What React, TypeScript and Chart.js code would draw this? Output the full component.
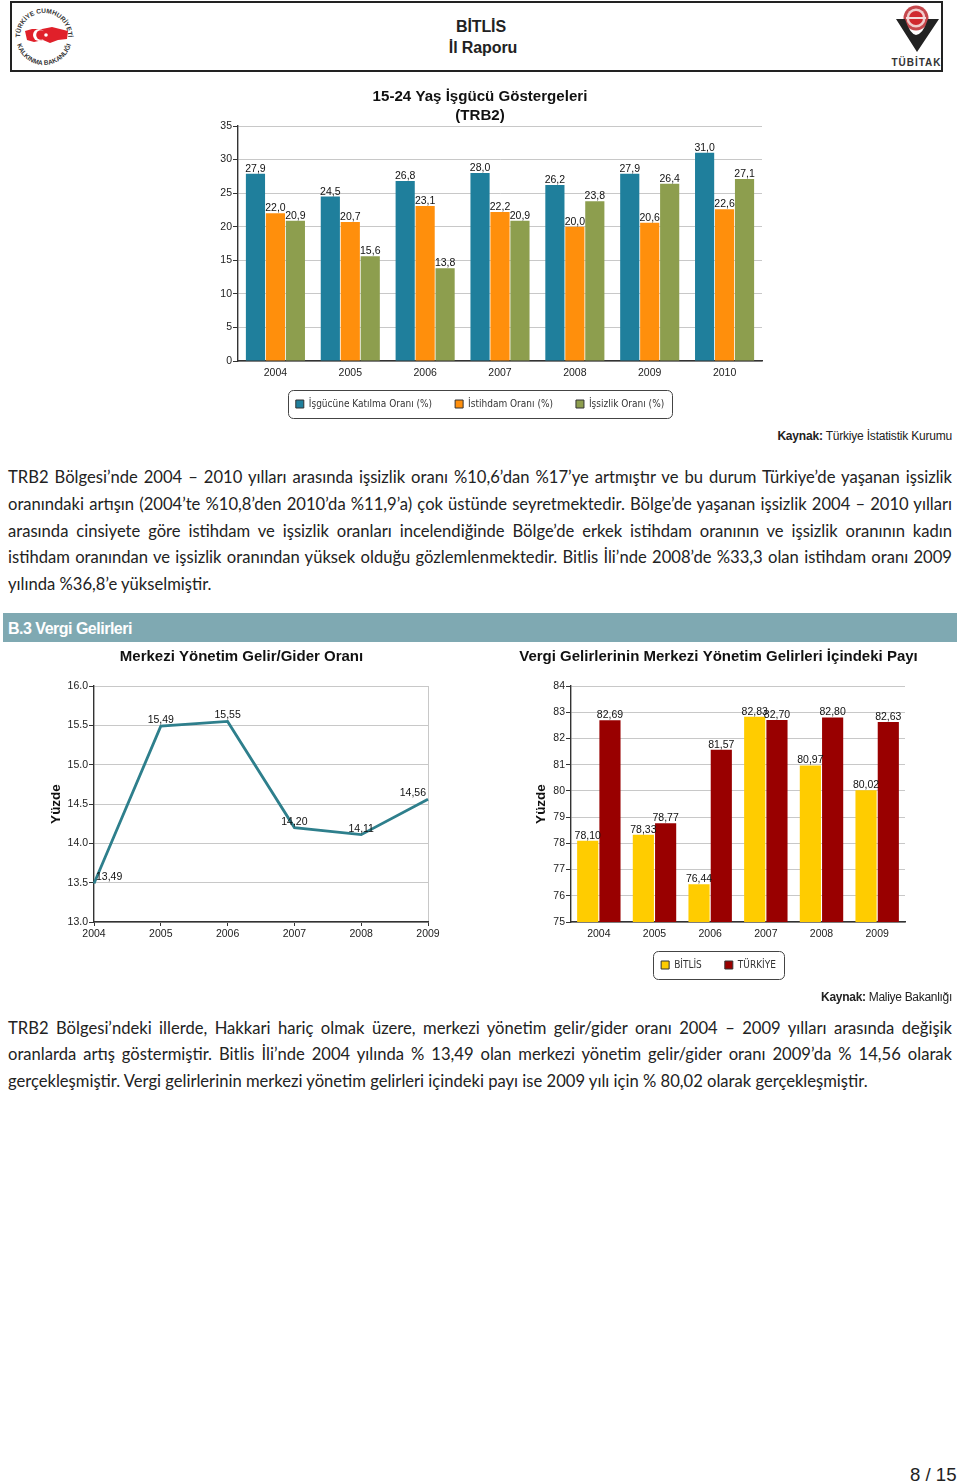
import React, { useEffect, useRef } from "react";
import { Chart, registerables } from "chart.js";

Chart.register(...registerables);

const years1 = ["2004", "2005", "2006", "2007", "2008", "2009", "2010"];
const isgucu = [27.9, 24.5, 26.8, 28.0, 26.2, 27.9, 31.0];
const istihdam = [22.0, 20.7, 23.1, 22.2, 20.0, 20.6, 22.6];
const issizlik = [20.9, 15.6, 13.8, 20.9, 23.8, 26.4, 27.1];

const years2 = ["2004", "2005", "2006", "2007", "2008", "2009"];
const gelirGider = [13.49, 15.49, 15.55, 14.2, 14.11, 14.56];
const bitlisPay = [78.1, 78.33, 76.44, 82.83, 80.97, 80.02];
const turkiyePay = [82.69, 78.77, 81.57, 82.7, 82.8, 82.63];

const para1 = [
  "TRB2 Bölgesi’nde 2004 – 2010 yılları arasında işsizlik oranı %10,6’dan %17’ye artmıştır ve bu durum Türkiye’de yaşanan işsizlik",
  "oranındaki artışın (2004’te %10,8’den 2010’da %11,9’a) çok üstünde seyretmektedir. Bölge’de yaşanan işsizlik 2004 – 2010 yılları",
  "arasında cinsiyete göre istihdam ve işsizlik oranları incelendiğinde Bölge’de erkek istihdam oranının ve işsizlik oranının kadın",
  "istihdam oranından ve işsizlik oranından yüksek olduğu gözlemlenmektedir. Bitlis İli’nde 2008’de %33,3 olan istihdam oranı 2009",
  "yılında %36,8’e yükselmiştir.",
];
const para2 = [
  "TRB2 Bölgesi’ndeki illerde, Hakkari hariç olmak üzere, merkezi yönetim gelir/gider oranı 2004 – 2009 yılları arasında değişik",
  "oranlarda artış göstermiştir. Bitlis İli’nde 2004 yılında % 13,49 olan merkezi yönetim gelir/gider oranı 2009’da % 14,56 olarak",
  "gerçekleşmiştir. Vergi gelirlerinin merkezi yönetim gelirleri içindeki payı ise 2009 yılı için % 80,02 olarak gerçekleşmiştir.",
];
const para1Tops = [466, 493, 520, 546, 573];
const para2Tops = [1017, 1043, 1070];

const SANS = '"Liberation Sans", Arial, sans-serif';
const tickFont = { family: SANS, size: 10.5 };
const labelColor = "#222";

const valueLabels = {
  id: "valueLabels",
  afterDatasetsDraw(chart: any, _a: any, opts: any) {
    const { ctx, chartArea } = chart;
    ctx.save();
    ctx.font = `10.5px ${SANS}`;
    ctx.fillStyle = "#111";
    ctx.textAlign = "left";
    ctx.textBaseline = "alphabetic";
    chart.data.datasets.forEach((ds: any, i: number) => {
      chart.getDatasetMeta(i).data.forEach((el: any, j: number) => {
        const text = ds.data[j].toFixed(opts.decimals).replace(".", ",");
        const w = ctx.measureText(text).width;
        let x = el.x - w / 2;
        x = Math.max(chartArea.left + 2, Math.min(chartArea.right - 2 - w, x));
        ctx.fillText(text, x, el.y - opts.gap);
      });
    });
    ctx.restore();
  },
};

const legendFrame = {
  id: "legendFrame",
  beforeDraw(chart: any) {
    const lg = chart.legend;
    if (!lg || !lg.options.display || !lg.legendHitBoxes?.length) return;
    const boxes = lg.legendHitBoxes;
    const first = boxes[0];
    const last = boxes[boxes.length - 1];
    const cy = first.top + first.height / 2;
    const { ctx } = chart;
    const x0 = first.left - 8;
    const x1 = last.left + last.width + 8;
    ctx.save();
    ctx.beginPath();
    ctx.roundRect(Math.round(x0) + 0.5, Math.round(cy - 14) + 0.5, Math.round(x1 - x0), 28, 5);
    ctx.strokeStyle = "#444";
    ctx.lineWidth = 1;
    ctx.stroke();
    ctx.restore();
  },
};

// The title box is limited to the padded width; let long titles use the full canvas
// so that they are not squeezed, while staying centred at the same place.
const titleBleed = {
  id: "titleBleed",
  afterLayout(chart: any) {
    const t = chart.titleBlock;
    if (!t) return;
    const extra = Math.min(t.left, chart.width - t.right);
    t.left -= extra;
    t.right += extra;
  },
};

function legendOptions() {
  return {
    display: true,
    position: "bottom" as const,
    labels: {
      boxWidth: 8,
      boxHeight: 8,
      padding: 23,
      color: "#333",
      font: { family: '"DejaVu Sans Condensed", "DejaVu Sans", sans-serif', size: 10 },
      generateLabels(chart: any) {
        return chart.data.datasets.map((ds: any, i: number) => ({
          text: ds.label,
          fillStyle: ds.backgroundColor,
          strokeStyle: "#333",
          lineWidth: 1,
          datasetIndex: i,
          fontColor: "#333",
        }));
      },
    },
  };
}

function titleOptions(text: string | string[], size: number, lineHeight: number, top: number, bottom: number) {
  return {
    display: true,
    text,
    color: "#111",
    font: { family: SANS, size, weight: "bold" as const, lineHeight: `${lineHeight}px` },
    padding: { top, bottom },
  };
}

function fixedWidth(w: number) {
  return (scale: any) => {
    scale.width = w;
  };
}
function fixedHeight(h: number) {
  return (scale: any) => {
    scale.height = h;
  };
}

function yAxis(min: number, max: number, step: number, width: number, decimals: number, title?: string, titlePad = 0) {
  return {
    min,
    max,
    afterFit: fixedWidth(width),
    border: { color: "#333", width: 1.4 },
    grid: { color: "#c8c8c8", lineWidth: 1, tickColor: "#333", tickLength: 5 },
    ticks: {
      stepSize: step,
      color: labelColor,
      font: tickFont,
      padding: 1,
      callback: (v: any) => Number(v).toFixed(decimals),
    },
    title: title
      ? {
          display: true,
          text: title,
          color: "#111",
          font: { family: SANS, size: 13.5, weight: "bold" as const, lineHeight: "15px" },
          padding: { top: titlePad, bottom: 0 },
        }
      : { display: false },
  };
}

function xAxis(offset: boolean, height: number) {
  const n = (ctx: any) => ctx.chart.data.labels.length;
  return {
    offset,
    afterFit: fixedHeight(height),
    border: { color: "#333", width: 1.4 },
    grid: {
      drawTicks: !offset,
      tickLength: 4,
      tickColor: "#333",
      color: (c: any) => (c.index === (offset ? n(c) : n(c) - 1) ? "#c8c8c8" : "rgba(0,0,0,0)"),
    },
    ticks: {
      color: labelColor,
      font: tickFont,
      maxRotation: 0,
      autoSkip: false,
      padding: offset ? 6 : 2,
    },
  };
}

function useChart(build: () => any) {
  const ref = useRef<HTMLCanvasElement>(null);
  useEffect(() => {
    const chart = new Chart(ref.current as HTMLCanvasElement, build());
    return () => chart.destroy();
  }, []);
  return ref;
}

function commonOptions(padding: any) {
  return {
    responsive: false,
    animation: false as const,
    layout: { padding },
  };
}

function EmploymentChart() {
  const ref = useChart(() => ({
    type: "bar",
    data: {
      labels: years1,
      datasets: [
        { label: "İşgücüne Katılma Oranı (%)", data: isgucu, backgroundColor: "#1F7F9C" },
        { label: "İstihdam Oranı (%)", data: istihdam, backgroundColor: "#FF8F0C" },
        { label: "İşsizlik Oranı (%)", data: issizlik, backgroundColor: "#8D9E4E" },
      ],
    },
    options: {
      ...commonOptions({ left: 18, right: 18, top: 0, bottom: 0 }),
      datasets: { bar: { categoryPercentage: 0.8, barPercentage: 0.96 } },
      scales: { x: xAxis(true, 15), y: yAxis(0, 35, 5, 40, 0) },
      plugins: {
        title: titleOptions(["15-24 Yaş İşgücü Göstergeleri", "(TRB2)"], 15.1, 19, 7, 1),
        legend: legendOptions(),
        tooltip: { enabled: false },
        valueLabels: { decimals: 1, gap: 2 },
      },
    },
    plugins: [valueLabels, legendFrame, titleBleed],
  }));
  return (
    <canvas
      ref={ref}
      width={600}
      height={339}
      style={{ position: "absolute", left: 180, top: 80, width: 600, height: 339 }}
    />
  );
}

function RatioChart() {
  const ref = useChart(() => ({
    type: "line",
    data: {
      labels: years2,
      datasets: [
        {
          label: "Merkezi Yönetim Gelir/Gider Oranı",
          data: gelirGider,
          borderColor: "#2E7F8C",
          borderWidth: 2.8,
          pointRadius: 0,
          tension: 0,
        },
      ],
    },
    options: {
      ...commonOptions({ left: 55, right: 55, top: 0, bottom: 8 }),
      scales: { x: xAxis(false, 20), y: yAxis(13, 16, 0.5, 39, 1, "Yüzde", -6) },
      plugins: {
        title: titleOptions("Merkezi Yönetim Gelir/Gider Oranı", 15, 19, 7, 20),
        legend: { display: false },
        tooltip: { enabled: false },
        valueLabels: { decimals: 2, gap: 3 },
      },
    },
    plugins: [valueLabels, titleBleed],
  }));
  return (
    <canvas
      ref={ref}
      width={483}
      height={310}
      style={{ position: "absolute", left: 0, top: 640, width: 483, height: 310 }}
    />
  );
}

function TaxShareChart() {
  const ref = useChart(() => ({
    type: "bar",
    data: {
      labels: years2,
      datasets: [
        { label: "BİTLİS", data: bitlisPay, backgroundColor: "#FFCC00" },
        { label: "TÜRKİYE", data: turkiyePay, backgroundColor: "#990000" },
      ],
    },
    options: {
      ...commonOptions({ left: 52, right: 52, top: 0, bottom: 0 }),
      datasets: { bar: { categoryPercentage: 0.8, barPercentage: 0.95 } },
      scales: { x: xAxis(true, 15), y: yAxis(75, 84, 1, 39, 0, "Yüzde", 1.5) },
      plugins: {
        title: titleOptions("Vergi Gelirlerinin Merkezi Yönetim Gelirleri İçindeki Payı", 15, 19, 7, 20),
        legend: legendOptions(),
        tooltip: { enabled: false },
        valueLabels: { decimals: 2, gap: 2 },
      },
    },
    plugins: [valueLabels, legendFrame, titleBleed],
  }));
  return (
    <canvas
      ref={ref}
      width={477}
      height={340}
      style={{ position: "absolute", left: 480, top: 640, width: 477, height: 340 }}
    />
  );
}

function Line({ text, top, justify }: { text: string; top: number; justify: boolean }) {
  return (
    <div
      style={{
        position: "absolute",
        left: 8,
        top,
        width: 944,
        height: 22,
        lineHeight: "22px",
        fontFamily: 'Lato, "Open Sans", sans-serif',
        fontSize: 16.6,
        color: "#222",
        whiteSpace: justify ? "normal" : "nowrap",
        textAlign: justify ? "justify" : "left",
        textAlignLast: justify ? "justify" : "left",
      }}
    >
      {text}
    </div>
  );
}

function abs(left: number, top: number, extra: React.CSSProperties = {}): React.CSSProperties {
  return { position: "absolute", left, top, fontFamily: SANS, whiteSpace: "nowrap", ...extra };
}

function Source({ top, bold, rest, spacing }: { top: number; bold: string; rest: string; spacing: number }) {
  return (
    <div
      style={{
        position: "absolute",
        right: 8,
        top,
        fontFamily: SANS,
        fontSize: 12,
        letterSpacing: `${spacing}px`,
        color: "#222",
        whiteSpace: "nowrap",
      }}
    >
      <b>{bold}</b> {rest}
    </div>
  );
}

function Header() {
  return (
    <>
      <div
        style={{
          position: "absolute",
          left: 10,
          top: 1,
          width: 933,
          height: 71,
          border: "2px solid #222",
          boxSizing: "border-box",
        }}
      />
      <div style={abs(381, 18, { width: 200, textAlign: "center", fontSize: 16, fontWeight: "bold", color: "#222", letterSpacing: "-0.1px" })}>
        BİTLİS
      </div>
      <div style={abs(383, 39, { width: 200, textAlign: "center", fontSize: 16, fontWeight: "bold", color: "#222", letterSpacing: "-0.1px" })}>
        İl Raporu
      </div>
      <svg style={{ position: "absolute", left: 12, top: 4 }} width={64} height={64} viewBox="0 0 64 64">
        <defs>
          <path id="arcTop" d="M 8 33 A 24 24 0 0 1 56 33" />
          <path id="arcBottom" d="M 4 33 A 28 28 0 0 0 60 33" />
        </defs>
        <text fontSize="6.5" fontWeight="bold" fontFamily={SANS} fill="#333">
          <textPath href="#arcTop" startOffset="50%" textAnchor="middle">TÜRKİYE CUMHURİYETİ</textPath>
        </text>
        <text fontSize="6.5" fontWeight="bold" fontFamily={SANS} fill="#333">
          <textPath href="#arcBottom" startOffset="50%" textAnchor="middle">KALKINMA BAKANLIĞI</textPath>
        </text>
        <path d="M13 27 L20 25 L30 25 L40 23 L48 25 L56 27 L55 35 L46 36 L38 39 L31 36 L22 38 L15 36 Z" fill="#E0202A" />
        <circle cx="27" cy="31" r="6" fill="#fff" />
        <circle cx="29" cy="31" r="4.8" fill="#E0202A" />
        <circle cx="34" cy="31" r="1.8" fill="#fff" />
      </svg>
      <svg style={{ position: "absolute", left: 887, top: 4 }} width={55} height={65} viewBox="0 0 55 65">
        <circle cx="29" cy="14" r="12.5" fill="#C5474C" />
        <circle cx="29" cy="14" r="9.5" fill="#F0CCCC" />
        <circle cx="29" cy="14" r="7" fill="#D0282E" />
        <rect x="19" y="13" width="20" height="2" fill="#F3DCDC" />
        <path d="M9 15 L18 15 Q23 30 29 31 Q36 30 41 15 L52 15 L30 48 Z" fill="#222" />
        <text x="29.5" y="62" textAnchor="middle" fontSize="10" fontWeight="bold" letterSpacing="1" fontFamily={SANS} fill="#333">
          TÜBİTAK
        </text>
      </svg>
    </>
  );
}

export default function App() {
  return (
    <div
      style={{
        position: "fixed",
        left: 0,
        top: 0,
        width: 960,
        height: 1484,
        background: "#fff",
        overflow: "hidden",
      }}
    >
      <Header />
      <EmploymentChart />
      <Source top={429} bold="Kaynak:" rest="Türkiye İstatistik Kurumu" spacing={-0.2} />
      {para1.map((t, i) => (
        <Line key={i} text={t} top={para1Tops[i]} justify={i < para1.length - 1} />
      ))}
      <div
        style={{
          position: "absolute",
          left: 3,
          top: 613,
          width: 954,
          height: 29,
          background: "#7FA9B2",
        }}
      />
      <div style={abs(8, 620, { fontSize: 16, fontWeight: "bold", color: "#fff", letterSpacing: "-0.5px" })}>
        B.3 Vergi Gelirleri
      </div>
      <RatioChart />
      <TaxShareChart />
      <Source top={990} bold="Kaynak:" rest="Maliye Bakanlığı" spacing={-0.3} />
      {para2.map((t, i) => (
        <Line key={i} text={t} top={para2Tops[i]} justify={i < para2.length - 1} />
      ))}
      <div style={abs(910, 1464, { fontSize: 18.6, color: "#222" })}>8 / 15</div>
    </div>
  );
}
